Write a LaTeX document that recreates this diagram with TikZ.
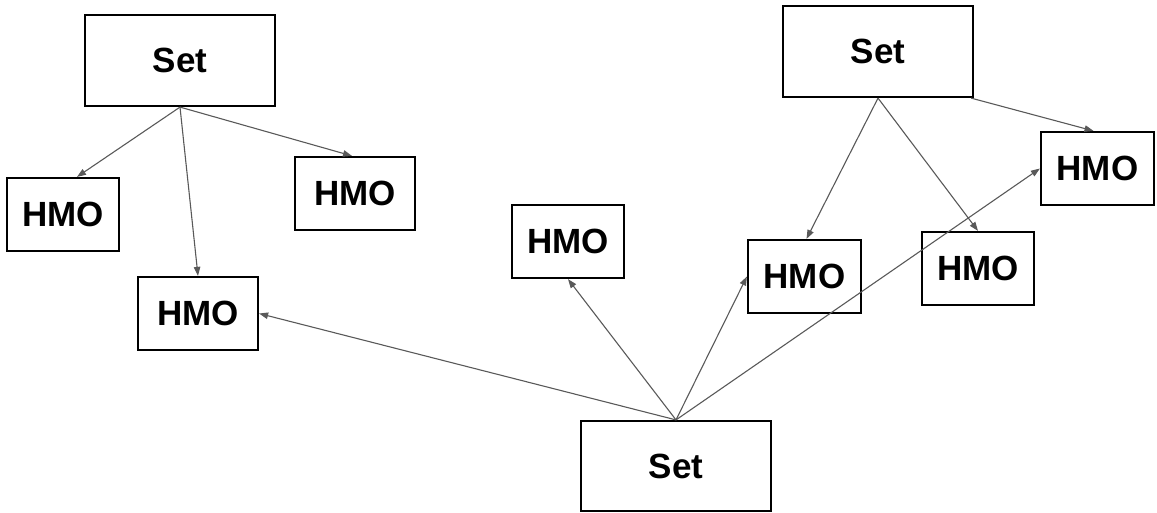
\documentclass[tikz,border=0pt]{standalone}
\usepackage{fontspec}
\setmainfont{Liberation Sans}
\usetikzlibrary{arrows.meta}
\definecolor{linkgray}{HTML}{595959}
\begin{document}
\begin{tikzpicture}[x=1pt,y=-1pt,
  box/.style={draw=black,line width=2.2pt,inner sep=0pt,font=\bfseries\fontsize{35}{35}\selectfont},
  setbox/.style={box,minimum width=190pt,minimum height=91pt},
  hmobox/.style={box,minimum width=113pt,minimum height=73pt},
  link/.style={draw=linkgray,line width=1.1pt,-{Triangle[length=9pt,width=6.5pt]}}]
\useasboundingbox (0,0) rectangle (1157,512);
% set boxes
\node[setbox] (s1) at (180,60.5) {Set};
\node[setbox] (s2) at (878,51.5) {Set};
\node[setbox,minimum height=90pt] (s3) at (676,466) {Set};
% HMO boxes
\node[hmobox,minimum width=112pt] (h1) at (63,214.5) {HMO};
\node[hmobox,minimum width=120pt] (h2) at (355,193.5) {HMO};
\node[hmobox,minimum width=120pt] (h3) at (198,313.5) {HMO};
\node[hmobox,minimum width=112pt] (h4) at (568,241.5) {HMO};
\node[hmobox] (h5) at (804.5,276.5) {HMO};
\node[hmobox,minimum width=112pt] (h6) at (978,268.5) {HMO};
\node[hmobox] (h7) at (1097.5,168.5) {HMO};
% links from the top-left set
\draw[link] (s1.south) -- ([xshift=14pt]h1.north);
\draw[link] (s1.south) -- (h3.north);
\draw[link] (s1.south) -- ([xshift=-3pt]h2.north);
% links from the top-right set
\draw[link] (s2.south) -- ([xshift=2pt]h5.north);
\draw[link] (s2.south) -- (h6.north);
\draw[link] ([xshift=-3pt]s2.south east) -- ([xshift=-4pt]h7.north);
% links from the bottom set
\draw[link] (s3.north) -- (h3.east);
\draw[link] (s3.north) -- (h4.south);
\draw[link] (s3.north) -- (h5.west);
\draw[link] (s3.north) -- (h7.west);
\end{tikzpicture}
\end{document}
